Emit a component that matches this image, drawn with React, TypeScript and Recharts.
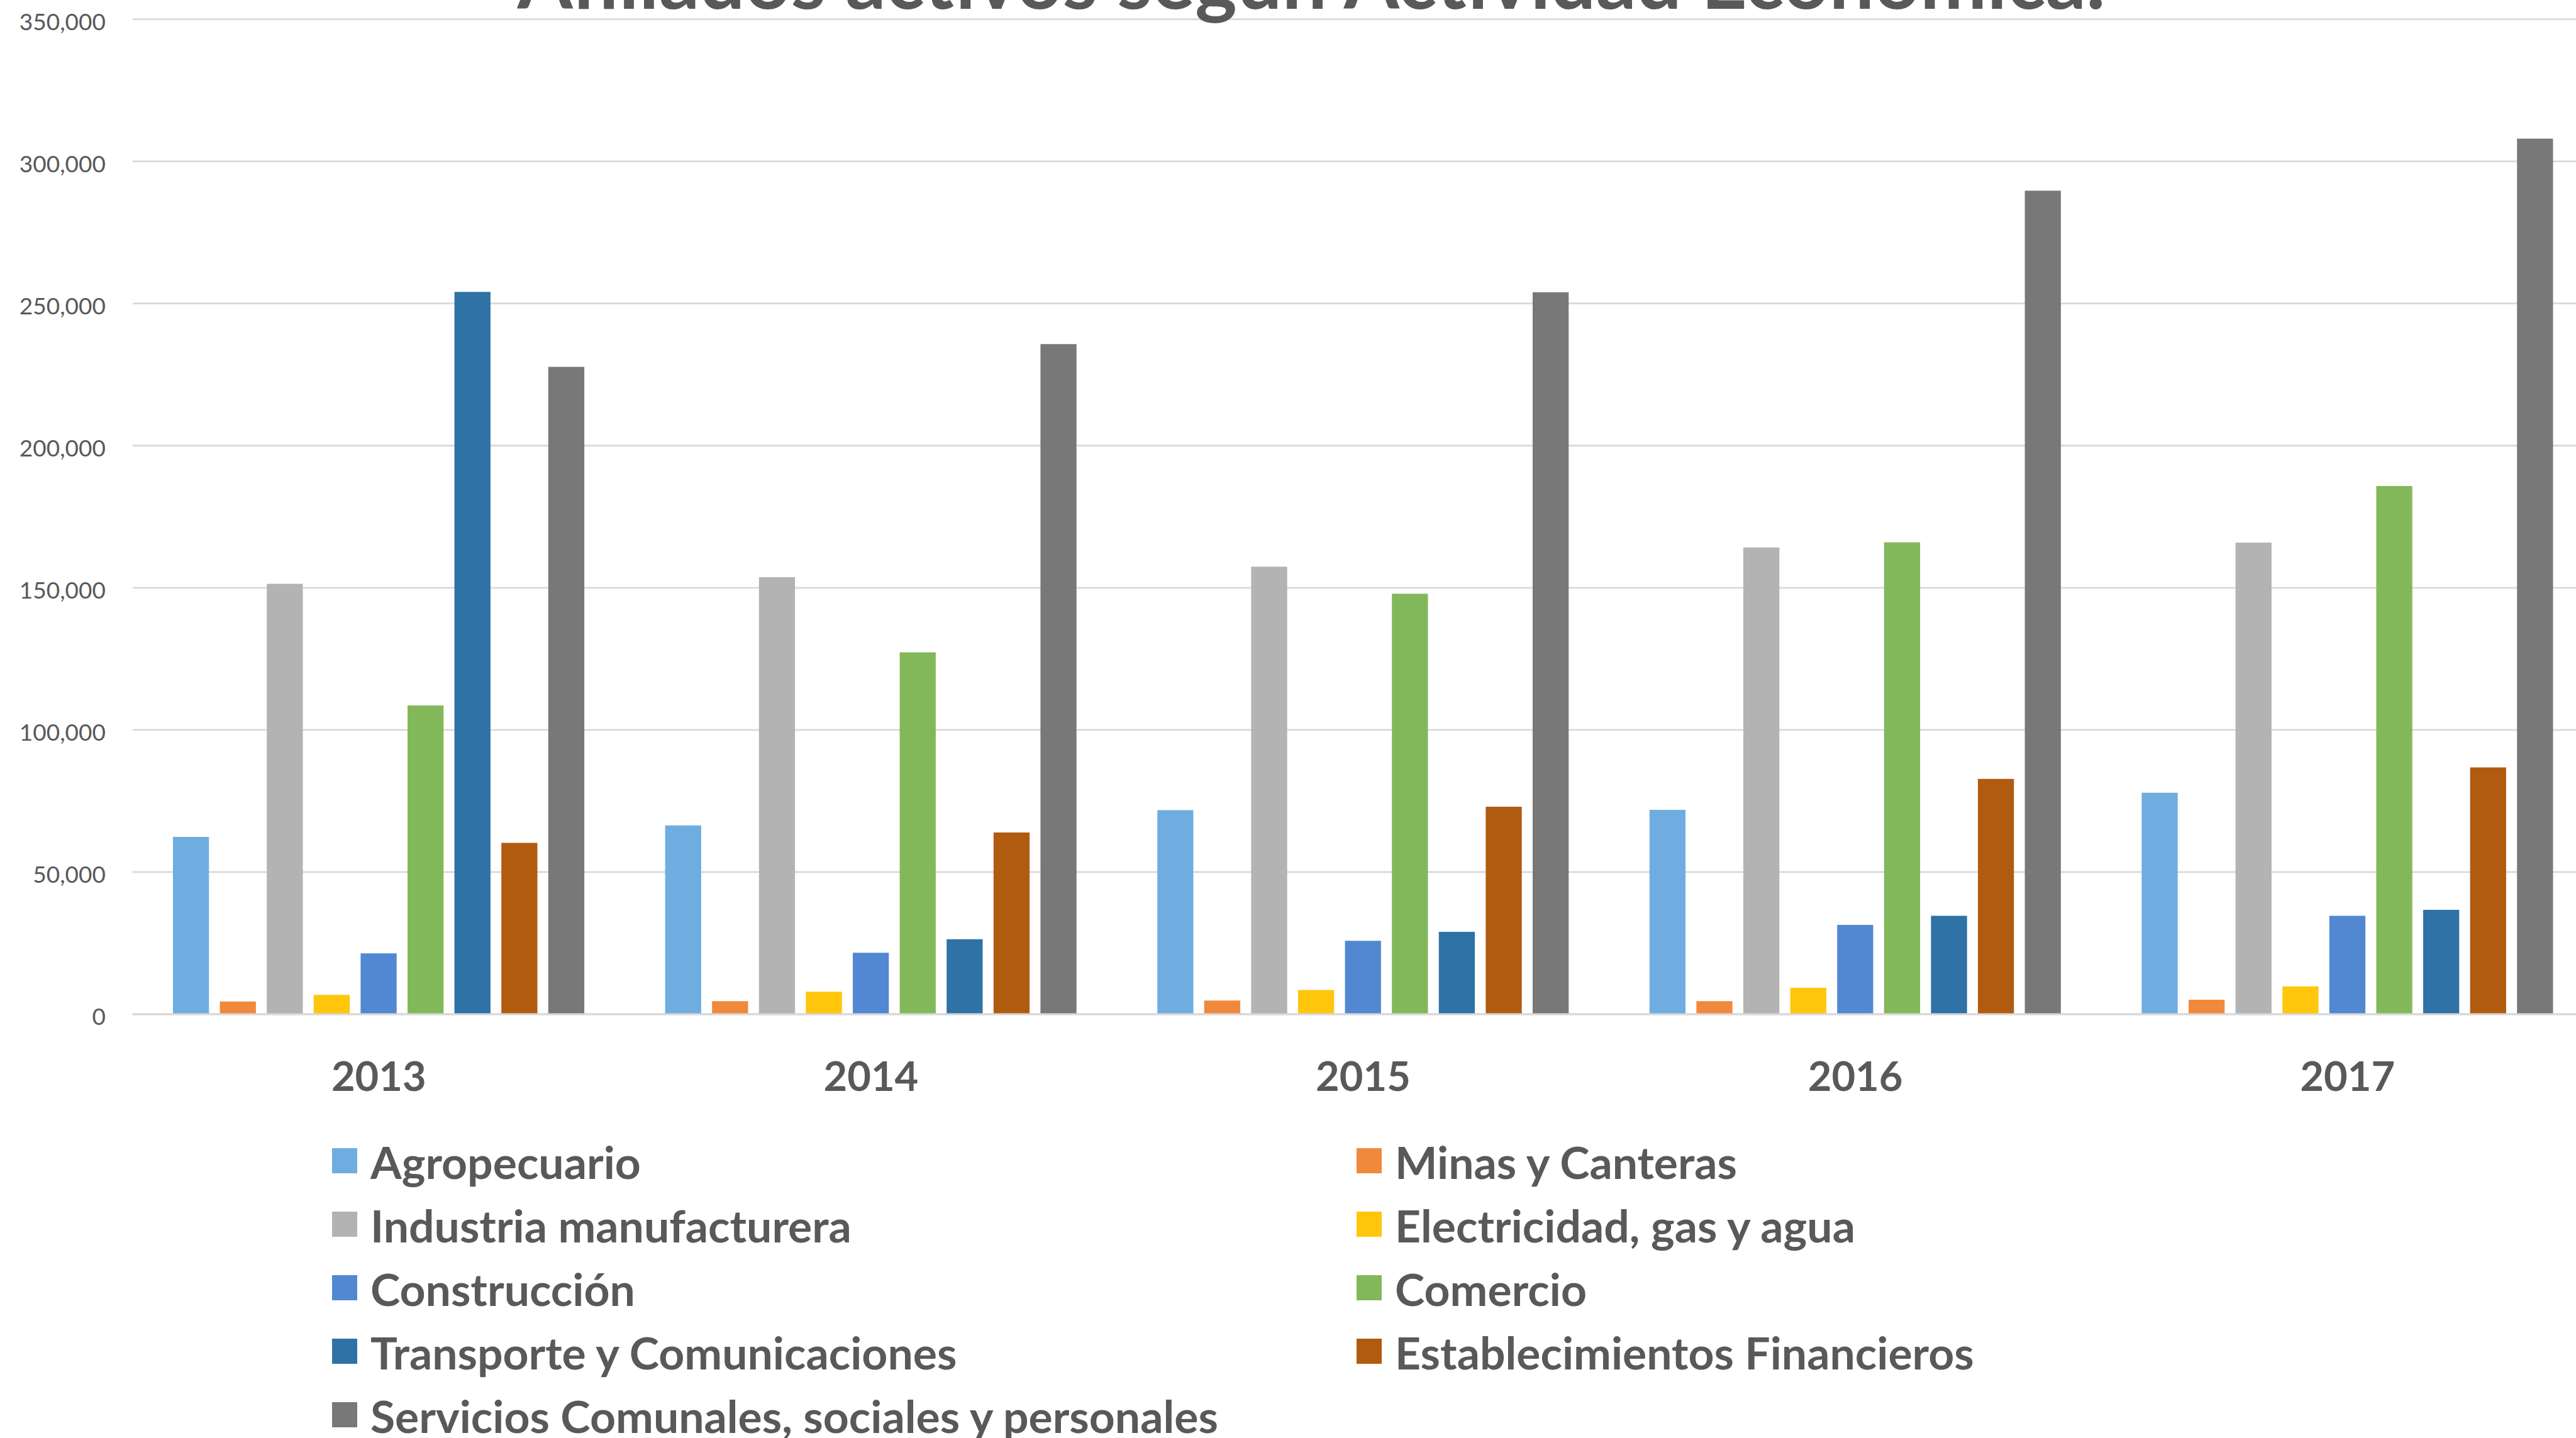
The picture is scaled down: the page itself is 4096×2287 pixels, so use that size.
import React from 'react';
import { BarChart, Bar, XAxis, YAxis, CartesianGrid, Legend } from 'recharts';

const years = ['2013', '2014', '2015', '2016', '2017'];

const agropecuario = [62400, 66400, 71800, 71900, 77900];
const minas = [4500, 4600, 4800, 4600, 5100];
const industria = [151400, 153700, 157400, 164200, 165900];
const electricidad = [6800, 7900, 8500, 9300, 9800];
const construccion = [21400, 21600, 25800, 31400, 34600];
const comercio = [108600, 127300, 147900, 166000, 185800];
const transporte = [254100, 26400, 29000, 34600, 36700];
const financieros = [60300, 63900, 73000, 82800, 86800];
const servicios = [227700, 235700, 254000, 289700, 308000];

const seriesNames = [
  'Agropecuario',
  'Minas y Canteras',
  'Industria manufacturera',
  'Electricidad, gas y agua',
  'Construcción',
  'Comercio',
  'Transporte y Comunicaciones',
  'Establecimientos Financieros',
  'Servicios Comunales, sociales y personales',
];
const seriesValues = [agropecuario, minas, industria, electricidad, construccion, comercio, transporte, financieros, servicios];
const seriesColors = ['#6fade0', '#f0893c', '#b3b3b3', '#ffc60b', '#5288d2', '#83b85a', '#2f72a5', '#b15b10', '#787878'];

const yTicks = [0, 50000, 100000, 150000, 200000, 250000, 300000, 350000];

const title = 'Afiliados activos según Actividad Económica.';

const data = years.map((year, i) => {
  const row: Record<string, string | number> = { year };
  seriesNames.forEach((name, s) => {
    row[name] = seriesValues[s][i];
  });
  return row;
});

const TEXT = '#595959';
const FONT = 'Lato, "Noto Sans", sans-serif';
const CHART_W = 4124;
const CHART_H = 2400;
const LEGEND_H = 627;

const YearTick = (props: any) => {
  const { x, y, payload } = props;
  return (
    <text x={x} y={y + 122} textAnchor="middle" fill={TEXT} fontFamily={FONT} fontWeight={700} fontSize={65}>
      {payload.value}
    </text>
  );
};

const ValueTick = (props: any) => {
  const { x, y, payload } = props;
  return (
    <text x={x} y={y + 17} textAnchor="end" fill={TEXT} fontFamily={FONT} fontSize={37}>
      {Number(payload.value).toLocaleString('en-US')}
    </text>
  );
};

// two-column legend, filled row by row like the original
const GridLegend = () => {
  const colX = [528, 2157];
  const rowBase = [102, 203, 304, 405, 506];
  return (
    <svg width={CHART_W} height={LEGEND_H} style={{ display: 'block' }}>
      {seriesNames.map((name, i) => {
        const cx = colX[i % 2];
        const by = rowBase[Math.floor(i / 2)];
        return (
          <g key={name}>
            <rect x={cx} y={by - 49} width={40} height={40} fill={seriesColors[i]} />
            <text x={cx + 61} y={by} fill={TEXT} fontFamily={FONT} fontWeight={700} fontSize={71.5}>
              {name}
            </text>
          </g>
        );
      })}
    </svg>
  );
};

const App = () => (
  <div style={{ position: 'fixed', left: 0, top: 0, width: 4096, height: 2287, overflow: 'hidden', background: '#fff' }}>
    <BarChart
      width={CHART_W}
      height={CHART_H}
      data={data}
      margin={{ top: 30.6, right: 0, bottom: 0, left: 0 }}
      barSize={57.3}
      barGap={17.3}
    >
      <CartesianGrid horizontal vertical={false} stroke="#d9d9d9" strokeWidth={2.8} />
      <XAxis
        dataKey="year"
        height={160}
        tickLine={false}
        tickSize={0}
        tickMargin={0}
        axisLine={{ stroke: '#d9d9d9', strokeWidth: 3 }}
        tick={<YearTick />}
      />
      <YAxis
        width={211}
        domain={[0, 350000]}
        ticks={yTicks}
        axisLine={false}
        tickLine={false}
        tickSize={0}
        tickMargin={43}
        tick={<ValueTick />}
      />
      <Legend
        verticalAlign="bottom"
        content={<GridLegend />}
        wrapperStyle={{ left: 0, bottom: 0, width: CHART_W, height: LEGEND_H, margin: 0 }}
      />
      {seriesNames.map((name, i) => (
        <Bar key={name} dataKey={name} fill={seriesColors[i]} isAnimationActive={false} />
      ))}
    </BarChart>
    <svg width={4096} height={200} style={{ position: 'absolute', left: 0, top: 0, pointerEvents: 'none' }}>
      <text x={2085} y={14} textAnchor="middle" fill={TEXT} fontFamily={FONT} fontWeight={700} fontSize={127}>
        {title}
      </text>
    </svg>
  </div>
);

export default App;
